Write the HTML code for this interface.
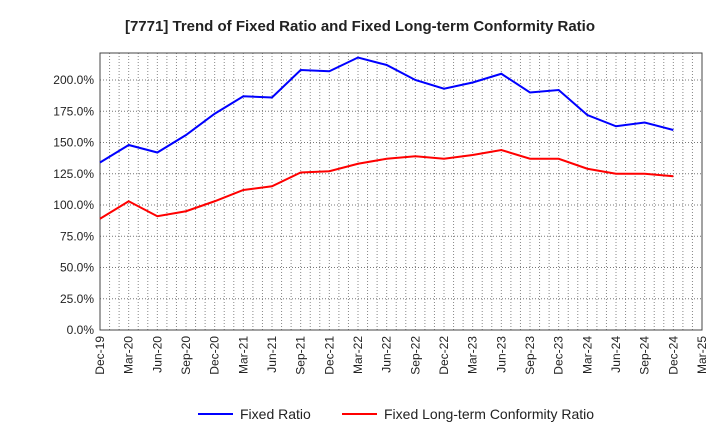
<!DOCTYPE html>
<html><head><meta charset="utf-8"><style>
body{margin:0;background:#fff;font-family:"Liberation Sans",sans-serif}
</style></head><body>
<svg id="chart" width="720" height="440" xmlns="http://www.w3.org/2000/svg">
<text x="360" y="31" text-anchor="middle" font-size="15" font-weight="bold" fill="#222">[7771]  Trend of Fixed Ratio and Fixed Long-term Conformity Ratio</text>
<g id="grid"></g><g id="axes"></g><g id="series"></g>
<g>
<line x1="198" y1="414" x2="233" y2="414" stroke="#0000ff" stroke-width="2"/>
<text x="240" y="419" font-size="14" fill="#222">Fixed Ratio</text>
<line x1="342" y1="414" x2="377" y2="414" stroke="#ff0000" stroke-width="2"/>
<text x="384" y="419" font-size="14" fill="#222">Fixed Long-term Conformity Ratio</text>
</g>
</svg>
<script>
const xLabels=["Dec-19","Mar-20","Jun-20","Sep-20","Dec-20","Mar-21","Jun-21","Sep-21","Dec-21","Mar-22","Jun-22","Sep-22","Dec-22","Mar-23","Jun-23","Sep-23","Dec-23","Mar-24","Jun-24","Sep-24","Dec-24","Mar-25"];
const yTicks=[0,25,50,75,100,125,150,175,200];
const fixedRatio=[134,148,142,156,173,187,186,208,207,218,212,200,193,198,205,190,192,172,163,166,160];
const conformityRatio=[89,103,91,95,103,112,115,126,127,133,137,139,137,140,144,137,137,129,125,125,123];
const NS="http://www.w3.org/2000/svg";
const L=100,R=702,T=53,B=330,yMax=221.6;
const xs=i=>L+(R-L)*i/(xLabels.length-1);
const ys=v=>B-(B-T)*v/yMax;
function mk(tag,attrs,parent){const e=document.createElementNS(NS,tag);for(const k in attrs)e.setAttribute(k,attrs[k]);parent.appendChild(e);return e;}
const grid=document.getElementById('grid'),axes=document.getElementById('axes'),ser=document.getElementById('series');
for(let m=1;m<(xLabels.length-1)*3;m++){const x=L+(R-L)*m/((xLabels.length-1)*3);
const g=mk('line',{x1:x,x2:x,y1:T,y2:B,stroke:'#888','stroke-dasharray':'1,2','stroke-width':1},grid);

}
yTicks.forEach(v=>{const y=ys(v);
if(v>0){const g=mk('line',{x1:L,x2:R,y1:y,y2:y,stroke:'#777','stroke-dasharray':'1,2','stroke-width':1},grid);

}
const t=mk('text',{x:L-6,y:y+4,'text-anchor':'end','font-size':12,fill:'#222'},axes);t.textContent=v.toFixed(1)+'%';

});
const fr=mk('rect',{x:L,y:T,width:R-L,height:B-T,fill:'none',stroke:'#444','stroke-width':1},axes);


xLabels.forEach((s,i)=>{const x=xs(i);
const t=mk('text',{x:x+4,y:B+6,'text-anchor':'end','font-size':12,fill:'#222',transform:`rotate(-90 ${x+4} ${B+6})`},axes);t.textContent=s;

});
function line(d,c,n){const p=mk('polyline',{points:d.map((v,i)=>xs(i)+','+ys(v)).join(' '),fill:'none',stroke:c,'stroke-width':2},ser);

}
line(fixedRatio,'#0000ff','fixed-ratio-line');
line(conformityRatio,'#ff0000','conformity-ratio-line');
</script>
</body></html>
